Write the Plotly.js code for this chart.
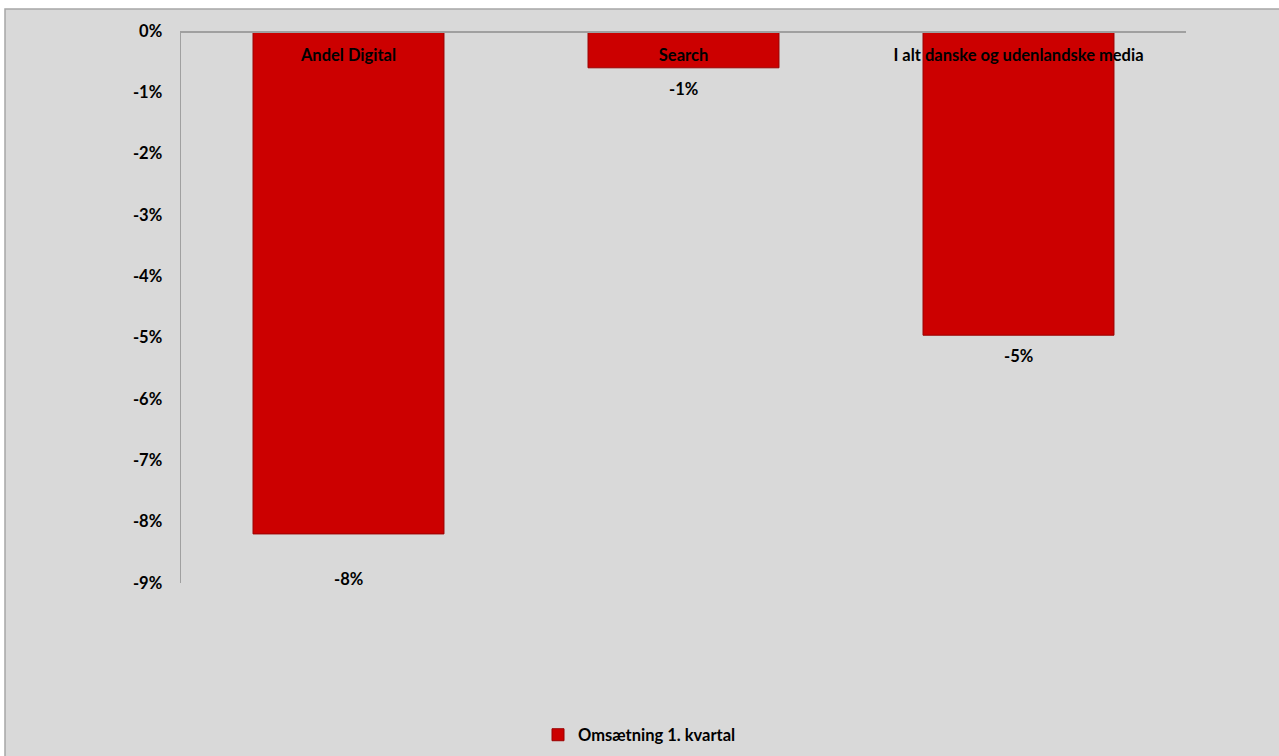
<!DOCTYPE html>
<html>
<head>
<meta charset="utf-8">
<script src="https://cdn.plot.ly/plotly-3.0.1.min.js"></script>
<style>html,body{margin:0;padding:0;background:#fff;}#chart{width:1279px;height:756px;}</style>
</head>
<body>
<div id="chart"></div>
<script>
const categories = ["Andel Digital", "Search", "I alt danske og udenlandske media"];
const values = [-0.082, -0.006, -0.0496];
const valueLabels = ["-8%", "-1%", "-5%"];
const seriesName = "Omsætning 1. kvartal";
const tickVals = [0, -0.01, -0.02, -0.03, -0.04, -0.05, -0.06, -0.07, -0.08, -0.09];
const tickText = ["0%", "-1%", "-2%", "-3%", "-4%", "-5%", "-6%", "-7%", "-8%", "-9%"];

const FONT = "Lato, 'Open Sans', sans-serif";
const FS = 16.5;

const trace = {
  type: "bar",
  x: categories,
  y: values,
  name: seriesName,
  marker: {color: "#cc0000", line: {color: "#9a0000", width: 1}},
  showlegend: true,
  hoverinfo: "skip"
};

const annotations = values.map((v, i) => ({
  x: categories[i], y: v, xref: "x", yref: "y",
  text: "<b>" + valueLabels[i] + "</b>",
  showarrow: false, yanchor: "middle",
  yshift: i === 0 ? -45 : -21,
  font: {family: FONT, size: FS, color: "#000"}
}));

const layout = {
  width: 1279, height: 756,
  margin: {l: 181, r: 93, t: 31, b: 173, pad: 0},
  paper_bgcolor: "#ffffff",
  plot_bgcolor: "rgba(0,0,0,0)",
  bargap: 0.43,
  font: {family: FONT, size: FS, color: "#000"},
  shapes: [{
    type: "rect", xref: "paper", yref: "paper", layer: "below",
    x0: -176/1005, x1: 1.2, y0: -0.5, y1: 1 + 22/552,
    fillcolor: "#d9d9d9", line: {color: "#a6a6a6", width: 1.5}
  }],
  xaxis: {
    type: "category",
    anchor: "free", position: 1, side: "bottom",
    showline: true, linecolor: "#a0a0a0", linewidth: 1.5,
    ticks: "outside", ticklen: 9, tickcolor: "rgba(0,0,0,0)",
    tickfont: {family: FONT, size: FS, color: "#000", weight: "bold"},
    showgrid: false, zeroline: false, fixedrange: true
  },
  yaxis: {
    range: [-0.09, 0],
    tickvals: tickVals, ticktext: tickText,
    showline: true, linecolor: "#a0a0a0", linewidth: 1.5,
    ticks: "outside", ticklen: 14, tickcolor: "rgba(0,0,0,0)",
    tickfont: {family: FONT, size: FS, color: "#000", weight: "bold"},
    showgrid: false, zeroline: false, fixedrange: true
  },
  legend: {
    orientation: "h", xref: "container", yref: "container",
    x: 0.5, xanchor: "center", y: 1 - 735/756, yanchor: "middle",
    bgcolor: "rgba(0,0,0,0)",
    font: {family: FONT, size: FS, color: "#000", weight: "bold"},
    itemwidth: 30
  },
  annotations: annotations
};

Plotly.newPlot("chart", [trace], layout, {displayModeBar: false, staticPlot: true});
</script>
</body>
</html>
